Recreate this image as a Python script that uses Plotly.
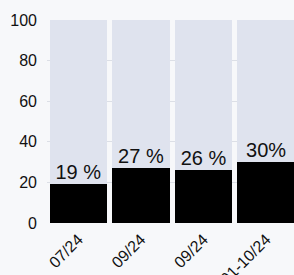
import plotly.graph_objects as go

periods = ["07/24", "09/24", "09/24", "01-10/24"]
values = [19, 27, 26, 30]
value_labels = ["19 %", "27 %", "26 %", "30%"]
total = 100

xs = list(range(len(periods)))
rest = [total - v for v in values]

fig = go.Figure()
fig.add_trace(go.Bar(x=xs, y=values, marker=dict(color="#000000", line=dict(width=0)),
                     hoverinfo="skip"))
fig.add_trace(go.Bar(x=xs, y=rest, marker=dict(color="#dfe3ee", line=dict(width=0)),
                     hoverinfo="skip"))
fig.add_trace(go.Scatter(x=xs, y=values, mode="text", text=value_labels,
                         textposition="top center",
                         textfont=dict(family="Liberation Sans, Arial, sans-serif", size=20, color="#111111"),
                         hoverinfo="skip", cliponaxis=False))

fig.update_layout(
    width=294, height=275,
    margin=dict(l=47, r=0, t=20, b=52, autoexpand=False),
    barmode="stack", bargap=0.083,
    showlegend=False,
    paper_bgcolor="#f7f8fa", plot_bgcolor="#f7f8fa",
    font=dict(family="Liberation Sans, Arial, sans-serif", color="#111111"),
)
fig.update_xaxes(range=[-0.5, 3.446], tickvals=xs, ticktext=periods, tickangle=-45,
                 showgrid=False, zeroline=False, showline=False, ticks="",
                 automargin=False, ticklabelstandoff=3,
                 tickfont=dict(size=16, color="#111111"))
fig.update_yaxes(range=[0, 100], tickvals=[0, 20, 40, 60, 80, 100],
                 showgrid=True, gridcolor="#dcdfe6", gridwidth=1, zeroline=False,
                 showline=False, ticks="", tickfont=dict(size=16, color="#111111"),
                 automargin=False, ticklabelstandoff=9)
fig.write_html("out.html", config={"displayModeBar": False},
               post_script="document.body.style.margin='0';document.body.style.overflow='hidden';document.body.style.background='#f7f8fa';")
